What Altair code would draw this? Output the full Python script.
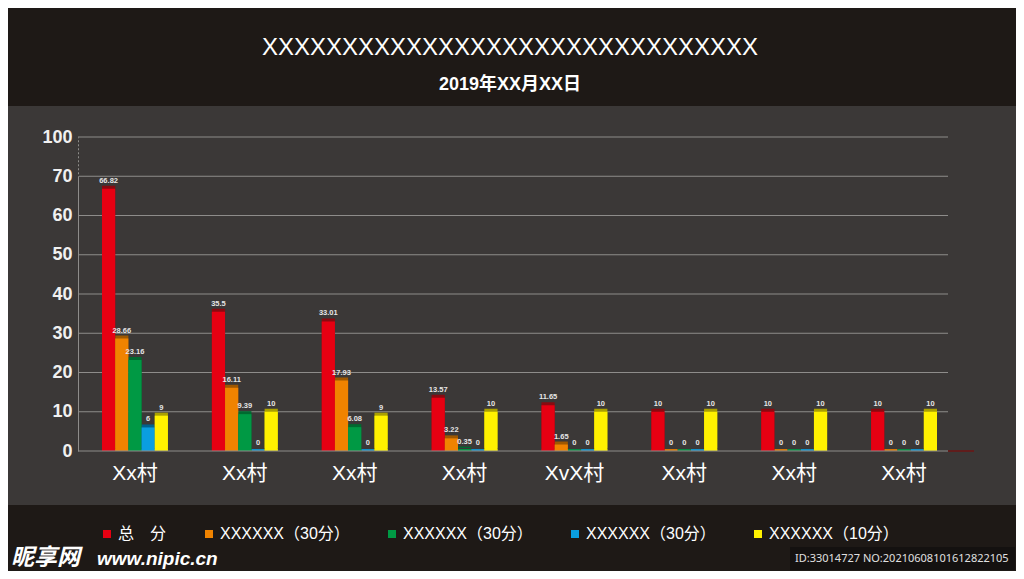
import json
import altair as alt
import pandas as pd

# ---------------- data ----------------
village_keys = ["v1", "v2", "v3", "v4", "v5", "v6", "v7", "v8"]
villages = ["Xx村", "Xx村", "Xx村", "Xx村", "XvX村", "Xx村", "Xx村", "Xx村"]
series_keys = ["s1", "s2", "s3", "s4", "s5"]
series = ["总　分", "XXXXXX（30分）", "XXXXXX（30分）", "XXXXXX（30分）", "XXXXXX（10分）"]
colors = ["#e60012", "#f08300", "#009944", "#0a9ee0", "#fff100"]
shades = ["#8a0a10", "#a05800", "#006a30", "#00628f", "#aaa000"]

total = [66.82, 35.5, 33.01, 13.57, 11.65, 10, 10, 10]
part_a = [28.66, 16.11, 17.93, 3.22, 1.65, 0, 0, 0]
part_b = [23.16, 9.39, 6.08, 0.35, 0, 0, 0, 0]
part_c = [6, 0, 0, 0, 0, 0, 0, 0]
part_d = [9, 10, 9, 10, 10, 10, 10, 10]

y_ticks = [0, 10, 20, 30, 40, 50, 60, 70, 80]
y_tick_labels = ["0", "10", "20", "30", "40", "50", "60", "70", "100"]
axis_break_span = [70, 80]   # the dotted piece of the y axis (70 .. "100")

title_text = "X" * 31
subtitle_text = "2019年XX月XX日"
watermark_logo = "昵享网"
watermark_site = "www.nipic.cn"
watermark_id = "ID:33014727 NO:20210608101612822105"

# ---------------- tables ----------------
rows = []
for sk, vals in zip(series_keys, [total, part_a, part_b, part_c, part_d]):
    for vk, v in zip(village_keys, vals):
        rows.append({"v": vk, "s": sk, "value": v, "zero": 0, "label": f"{v:g}"})
df = pd.DataFrame(rows)
one = pd.DataFrame({"a": [0]})
grid_df = pd.DataFrame({"value": y_ticks[1:]})
brk = pd.DataFrame({"value": [axis_break_span[0]], "value2": [axis_break_span[1]]})
zero_row = pd.DataFrame({"value": [0]})

CJK = "Liberation Sans, Noto Sans CJK SC"
DARK = "#1e1916"
GREY = "#3b3837"
LINE = "#8e8c8a"
W, H = 870, 314

x_label_expr = f"{json.dumps(villages, ensure_ascii=False)}[indexof({json.dumps(village_keys)}, datum.value)]"
y_label_expr = f"{json.dumps(y_tick_labels)}[indexof({json.dumps(y_ticks)}, datum.value)]"
legend_label_expr = f"{json.dumps(series, ensure_ascii=False)}[indexof({json.dumps(series_keys)}, datum.value)]"

x_enc = alt.X(
    "v:N",
    sort=village_keys,
    scale=alt.Scale(range=[24, 859], paddingInner=0.4, paddingOuter=0),
    axis=alt.Axis(
        title=None, labelExpr=x_label_expr, labelAngle=0, labelFontSize=21,
        labelFont=CJK, labelColor="#ffffff", labelPadding=11, ticks=False,
        domain=False, grid=False,
    ),
)
xo_enc = alt.XOffset("s:N", sort=series_keys, scale=alt.Scale(paddingInner=0, paddingOuter=0))
y_scale = alt.Scale(domain=[0, 80], nice=False, zero=True)
y_enc = alt.Y(
    "value:Q",
    scale=y_scale,
    axis=alt.Axis(
        title=None, values=y_ticks, tickCount=9, labelExpr=y_label_expr, labelFontSize=18,
        labelFontWeight="bold", labelFont="Liberation Sans", labelColor="#f0f0f0",
        labelPadding=6, labelOverlap=False, ticks=False, domainColor=LINE, grid=False,
    ),
)

base = alt.Chart(df)

# horizontal grid lines at the tick values, across the whole plot width
grid = alt.Chart(grid_df).mark_rule(color=LINE, strokeWidth=1).encode(
    y=alt.Y("value:Q", scale=y_scale), x=alt.value(0), x2=alt.value(W)
)
baseline = alt.Chart(zero_row).mark_rule(color=LINE, strokeWidth=1).encode(
    y=alt.Y("value:Q", scale=y_scale), x=alt.value(0), x2=alt.value(W)
)
base_ext = alt.Chart(zero_row).mark_rule(color="#6e1414", strokeWidth=1.5).encode(
    y=alt.Y("value:Q", scale=y_scale), x=alt.value(W), x2=alt.value(W + 26)
)

# thin coloured floor of every bar (visible where the value is 0)
floors = base.mark_tick(thickness=2, size=13, yOffset=-1, opacity=0.85).encode(
    x=x_enc, xOffset=xo_enc, y=alt.Y("zero:Q", scale=y_scale),
    color=alt.Color("s:N", scale=alt.Scale(domain=series_keys, range=colors), legend=None),
)

shadow = base.mark_bar(xOffset=3, yOffset=-3, y2Offset=0).encode(
    x=x_enc, xOffset=xo_enc, y=y_enc,
    color=alt.Color("s:N", scale=alt.Scale(domain=series_keys, range=shades), legend=None),
)

bars = base.mark_bar().encode(
    x=x_enc, xOffset=xo_enc, y=y_enc,
    color=alt.Color(
        "s:N",
        scale=alt.Scale(domain=series_keys, range=colors),
        legend=alt.Legend(
            title=None, orient="none", legendX=21, legendY=389, direction="horizontal",
            columns=5, symbolType="square", symbolSize=64, symbolStrokeWidth=0,
            labelExpr=legend_label_expr, labelFont=CJK, labelFontSize=16,
            labelColor="#ffffff", labelOffset=3, columnPadding=34, padding=0,
            labelLimit=300,
        ),
    ),
)

labels = base.mark_text(
    baseline="bottom", dy=-4, fontSize=7.5, fontWeight="bold",
    font="Liberation Sans", color="#e6e6e6",
).encode(x=x_enc, xOffset=xo_enc, y=y_enc, text="label:N")

# decorative bands of the poster
top_band = alt.Chart(one).mark_rect(color=DARK).encode(
    x=alt.value(-70), x2=alt.value(938), y=alt.value(-129), y2=alt.value(-31)
)
bottom_band = alt.Chart(one).mark_rect(color=DARK).encode(
    x=alt.value(-70), x2=alt.value(938), y=alt.value(368), y2=alt.value(434)
)
id_box = alt.Chart(one).mark_rect(color="#141110").encode(
    x=alt.value(712), x2=alt.value(937), y=alt.value(410), y2=alt.value(433)
)

# axis break (dotted piece of the y axis between 70 and 100)
axis_break = alt.Chart(brk).mark_rule(color=GREY, strokeWidth=2, strokeDash=[2, 2]).encode(
    x=alt.value(0), y=alt.Y("value:Q", scale=y_scale), y2="value2:Q"
)

title_mark = alt.Chart(one).mark_text(
    fontSize=24, font="Liberation Sans", color="#ffffff", baseline="middle", align="center"
).encode(x=alt.value(432), y=alt.value(-89), text=alt.value(title_text))
subtitle_mark = alt.Chart(one).mark_text(
    fontSize=18, font=CJK, fontWeight="bold", color="#ffffff", baseline="middle", align="center"
).encode(x=alt.value(432), y=alt.value(-52), text=alt.value(subtitle_text))

wm_logo = alt.Chart(one).mark_text(
    fontSize=23, font="Noto Sans CJK SC", fontWeight="bold", fontStyle="italic",
    color="#ffffff", align="left", baseline="middle",
).encode(x=alt.value(-67), y=alt.value(421), text=alt.value(watermark_logo))
wm_site = alt.Chart(one).mark_text(
    fontSize=19, font="Liberation Sans", fontWeight="bold", fontStyle="italic",
    color="#ffffff", align="left", baseline="middle",
).encode(x=alt.value(19), y=alt.value(422), text=alt.value(watermark_site))
wm_id = alt.Chart(one).mark_text(
    fontSize=11, font="Noto Sans", color="#e0e0e0", align="left", baseline="middle",
).encode(x=alt.value(717), y=alt.value(422), text=alt.value(watermark_id))

chart = alt.layer(
    top_band, bottom_band, id_box, grid, floors, shadow, bars, labels, baseline, base_ext,
    axis_break, title_mark, subtitle_mark, wm_logo, wm_site, wm_id,
).resolve_scale(
    color="independent"
).properties(
    width=W, height=H,
    autosize=alt.AutoSizeParams(type="none"),
    padding={"left": 70, "top": 129, "right": 68, "bottom": 120},
    background=GREY,
).configure_view(stroke=None)

chart.save("out.html", embed_options={"renderer": "svg", "actions": False})
